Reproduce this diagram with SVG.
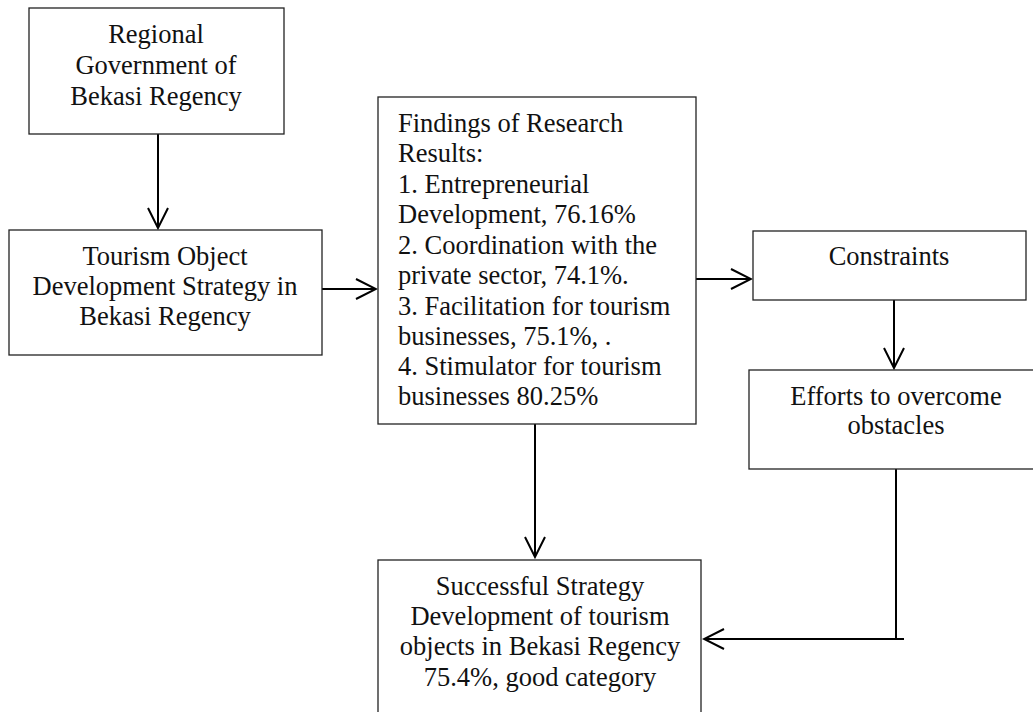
<svg xmlns="http://www.w3.org/2000/svg" width="1033" height="712" viewBox="0 0 1033 712">
<style>
.box{fill:#fff;stroke:#222;stroke-width:1.3}
.t{font-family:'Liberation Serif','DejaVu Serif',serif;font-size:26.5px;fill:#111}
.c{text-anchor:middle}
.con{fill:none;stroke:#000;stroke-width:2}
</style>
<defs>
<marker id="ah" markerUnits="userSpaceOnUse" markerWidth="24" markerHeight="24" viewBox="-22 -12 24 24" refX="0" refY="0" orient="auto">
<path d="M -20 -10 L 0 0 L -20 10" fill="none" stroke="#000" stroke-width="2"/>
</marker>
</defs>
<rect width="1033" height="712" fill="#fff"/>
<g id="connectors">
<line class="con" x1="158" y1="134" x2="158" y2="228" marker-end="url(#ah)"/>
<line class="con" x1="322" y1="289" x2="376" y2="289" marker-end="url(#ah)"/>
<line class="con" x1="696" y1="279" x2="751" y2="279" marker-end="url(#ah)"/>
<line class="con" x1="894" y1="300" x2="894" y2="368" marker-end="url(#ah)"/>
<line class="con" x1="535" y1="424" x2="535" y2="557" marker-end="url(#ah)"/>
<line class="con" x1="896" y1="469" x2="896" y2="640"/>
<line class="con" x1="904" y1="639" x2="704" y2="639" marker-end="url(#ah)"/>
</g>
<g id="regional">
<rect class="box" x="29" y="8" width="255" height="126"/>
<text class="t c" x="156" y="43">Regional</text>
<text class="t c" x="156" y="74">Government of</text>
<text class="t c" x="156" y="105">Bekasi Regency</text>
</g>
<g id="strategy">
<rect class="box" x="9" y="230" width="313" height="125"/>
<text class="t c" x="165" y="265">Tourism Object</text>
<text class="t c" x="165" y="295">Development Strategy in</text>
<text class="t c" x="165" y="325">Bekasi Regency</text>
</g>
<g id="findings">
<rect class="box" x="378" y="97" width="318" height="327"/>
<text class="t" x="398" y="132">Findings of Research</text>
<text class="t" x="398" y="162">Results:</text>
<text class="t" x="398" y="193">1. Entrepreneurial</text>
<text class="t" x="398" y="223">Development, 76.16%</text>
<text class="t" x="398" y="254">2. Coordination with the</text>
<text class="t" x="398" y="284">private sector, 74.1%.</text>
<text class="t" x="398" y="315">3. Facilitation for tourism</text>
<text class="t" x="398" y="345">businesses, 75.1%, .</text>
<text class="t" x="398" y="375">4. Stimulator for tourism</text>
<text class="t" x="398" y="405">businesses 80.25%</text>
</g>
<g id="constraints">
<rect class="box" x="753" y="231" width="273" height="69"/>
<text class="t c" x="889" y="265">Constraints</text>
</g>
<g id="efforts">
<rect class="box" x="749" y="370" width="300" height="99"/>
<text class="t c" x="896" y="405">Efforts to overcome</text>
<text class="t c" x="896" y="434">obstacles</text>
</g>
<g id="success">
<rect class="box" x="378" y="560" width="323" height="170"/>
<text class="t c" x="540" y="595">Successful Strategy</text>
<text class="t c" x="540" y="625">Development of tourism</text>
<text class="t c" x="540" y="655">objects in Bekasi Regency</text>
<text class="t c" x="540" y="686">75.4%, good category</text>
</g>
</svg>
